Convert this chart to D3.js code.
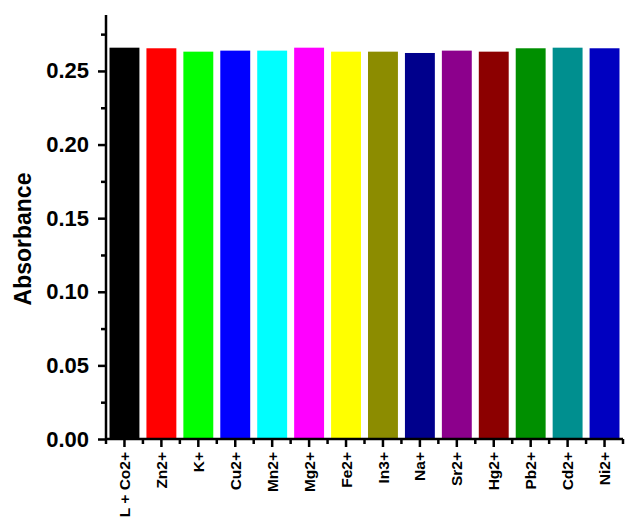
<!DOCTYPE html>
<html>
<head>
<meta charset="utf-8">
<script src="https://cdn.jsdelivr.net/npm/d3@7"></script>
<style>
  body { margin: 0; background: #fff; }
  svg { display: block; font-family: Arial, "Liberation Sans", sans-serif; }
</style>
</head>
<body>
<svg id="chart" width="626" height="518"></svg>
<script>
const categories = ["L + Co2+", "Zn2+", "K+", "Cu2+", "Mn2+", "Mg2+", "Fe2+", "In3+", "Na+", "Sr2+", "Hg2+", "Pb2+", "Cd2+", "Ni2+"];
const values = [0.2658, 0.2654, 0.2631, 0.2638, 0.2638, 0.2658, 0.2631, 0.2631, 0.2622, 0.2638, 0.2631, 0.2654, 0.2658, 0.2654];
const colors = ["#000000", "#ff0000", "#00ff00", "#0000ff", "#00ffff", "#ff00ff", "#ffff00", "#8c8c00", "#00008c", "#8c008c", "#8c0000", "#008f00", "#008f8f", "#0000c0"];
const yTicks = [0.00, 0.05, 0.10, 0.15, 0.20, 0.25];
const yMinorTicks = [0.025, 0.075, 0.125, 0.175, 0.225, 0.275];
const yTitle = "Absorbance";

const svg = d3.select("#chart");
const mLeft = 106, mRight = 623, mTop = 15, mBottom = 439;

const x = d3.scaleBand().domain(categories).range([mLeft, mRight]).paddingInner(0.19).paddingOuter(0.095);
const y = d3.scaleLinear().domain([0, 0.288]).range([mBottom, mTop]);

// bars
svg.append("g").selectAll("rect").data(categories).join("rect")
  .attr("x", d => x(d))
  .attr("width", x.bandwidth())
  .attr("y", (d, i) => y(values[i]))
  .attr("height", (d, i) => y(0) - y(values[i]))
  .attr("fill", (d, i) => colors[i]);

// y axis
const yAxis = d3.axisLeft(y).tickValues(yTicks).tickFormat(d3.format(".2f")).tickSize(8).tickPadding(9);
const gy = svg.append("g").attr("transform", `translate(${mLeft},0)`).call(yAxis);
gy.select(".domain").remove();
gy.selectAll(".tick line").attr("stroke", "#000").attr("stroke-width", 2.5);
gy.selectAll(".tick text").attr("font-size", 22).attr("font-weight", "bold").attr("fill", "#000");
const yMinor = d3.axisLeft(y).tickValues(yMinorTicks).tickFormat("").tickSize(5);
const gym = svg.append("g").attr("transform", `translate(${mLeft},0)`).call(yMinor);
gym.select(".domain").remove();
gym.selectAll(".tick line").attr("stroke", "#000").attr("stroke-width", 2.5);

// x axis
const xAxis = d3.axisBottom(x).tickSize(8).tickPadding(6);
const gx = svg.append("g").attr("transform", `translate(0,${mBottom})`).call(xAxis);
gx.select(".domain").remove();
gx.selectAll(".tick line").attr("stroke", "#000").attr("stroke-width", 2.5);
gx.selectAll(".tick text")
  .attr("font-size", 15.5).attr("font-weight", "bold").attr("fill", "#000")
  .attr("text-anchor", "end")
  .attr("transform", "rotate(-90)")
  .attr("x", -13).attr("y", 0).attr("dy", "0.36em");

// minor x ticks at band boundaries
const boundaries = d3.range(categories.length + 1).map(i => mLeft + i * x.step());
svg.append("g").selectAll("line").data(boundaries).join("line")
  .attr("x1", d => d).attr("x2", d => d)
  .attr("y1", mBottom).attr("y2", mBottom + 5)
  .attr("stroke", "#000").attr("stroke-width", 2.5);

// axis lines
svg.append("line").attr("x1", mLeft).attr("x2", mLeft).attr("y1", mTop).attr("y2", mBottom + 1)
  .attr("stroke", "#000").attr("stroke-width", 2.5);
svg.append("line").attr("x1", mLeft - 1).attr("x2", mRight).attr("y1", mBottom).attr("y2", mBottom)
  .attr("stroke", "#000").attr("stroke-width", 2.5);

// y title
svg.append("text")
  .attr("transform", `translate(31,${(mTop + mBottom) / 2 + 12}) rotate(-90)`)
  .attr("text-anchor", "middle")
  .attr("font-size", 23).attr("font-weight", "bold").attr("fill", "#000")
  .text(yTitle);
</script>
</body>
</html>
